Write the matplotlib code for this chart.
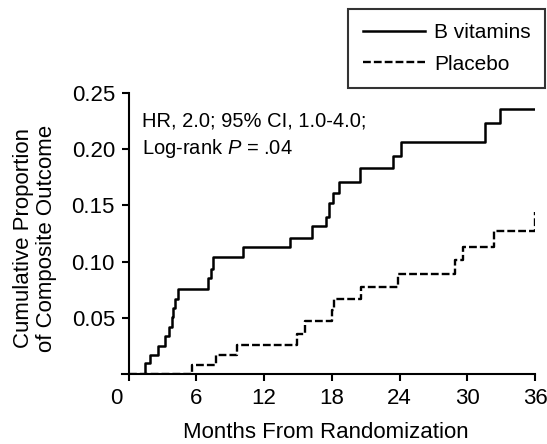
import matplotlib
matplotlib.use('Agg')
import matplotlib.pyplot as plt
from matplotlib.transforms import ScaledTranslation

plt.rcParams['font.family'] = ['Liberation Sans', 'DejaVu Sans']
plt.rcParams['mathtext.fontset'] = 'custom'
plt.rcParams['mathtext.rm'] = 'Liberation Sans'
plt.rcParams['mathtext.it'] = 'Liberation Sans:italic'

# event times (months) and cumulative proportion after each event
b_vit_months = [0, 1.4, 1.9, 2.6, 3.2, 3.6, 3.85, 3.95, 4.1, 4.4, 7.0, 7.3, 7.5,
                10.1, 14.3, 16.2, 17.5, 17.7, 18.1, 18.6, 20.5, 23.4, 24.1,
                31.6, 32.9, 36]
b_vit_prop = [0, 0.0095, 0.017, 0.025, 0.034, 0.042, 0.051, 0.059, 0.067, 0.076,
              0.085, 0.093, 0.104, 0.113, 0.121, 0.132, 0.140, 0.152, 0.161,
              0.171, 0.183, 0.194, 0.206, 0.223, 0.236, 0.236]

placebo_months = [0, 5.6, 7.7, 9.6, 14.9, 15.6, 18.0, 18.2, 20.6, 23.9, 28.9,
                  29.6, 32.4, 36]
placebo_prop = [0, 0.008, 0.017, 0.026, 0.036, 0.047, 0.057, 0.067, 0.077,
                0.089, 0.101, 0.113, 0.1275, 0.144]

x_ticks = [0, 6, 12, 18, 24, 30, 36]
y_ticks = [0.05, 0.10, 0.15, 0.20, 0.25]
y_tick_labels = ['0.05', '0.10', '0.15', '0.20', '0.25']

W, H = 547, 444
fig = plt.figure(figsize=(W / 100, H / 100), dpi=100)
ax = fig.add_axes([122 / W, 1 - 374 / H, 413 / W, 281 / H])

ax.step(b_vit_months, b_vit_prop, where='post', color='black', lw=1.8,
        label='B vitamins')
ax.step(placebo_months, placebo_prop, where='post', color='black', lw=1.7,
        linestyle=(0, (3.3, 1.3)), label='Placebo')

ax.set_xlim(-0.6, 36)
ax.set_ylim(0, 0.25)
ax.spines['left'].set_position(('data', 0))
ax.spines['top'].set_visible(False)
ax.spines['right'].set_visible(False)
for s in ('left', 'bottom'):
    ax.spines[s].set_linewidth(1.5)

ax.set_xticks(x_ticks)
ax.set_yticks(y_ticks)
ax.set_yticklabels(y_tick_labels)
ax.tick_params(axis='both', direction='out', length=5, width=1.5,
               labelsize=16, pad=5)

# the origin label sits a bit left of its tick
lbl0 = ax.get_xticklabels()[0]
lbl0.set_transform(lbl0.get_transform() + ScaledTranslation(-12 / 100, 0, fig.dpi_scale_trans))

ax.text(1.15, 0.2198, 'HR, 2.0; 95% CI, 1.0-4.0;', fontsize=14.5, va='baseline')
ax.text(1.15, 0.1957, 'Log-rank $P$ = .04', fontsize=14.5, va='baseline')

fig.text(35 / W, 1 - 238 / H, 'Cumulative Proportion\nof Composite Outcome',
         rotation=90, ha='center', va='center', fontsize=16, linespacing=1.1)
fig.text(326 / W, 6 / H, 'Months From Randomization', ha='center',
         va='baseline', fontsize=16)

leg = fig.legend(loc='upper right', bbox_to_anchor=(545 / W, 1 - 8.7 / H),
                 fontsize=15, handlelength=3.0, handletextpad=0.4,
                 borderpad=0.7, labelspacing=0.6, borderaxespad=0,
                 fancybox=False, frameon=True)
leg.get_frame().set_edgecolor('black')
leg.get_frame().set_linewidth(1.5)

fig.savefig('out.png', dpi=100)
